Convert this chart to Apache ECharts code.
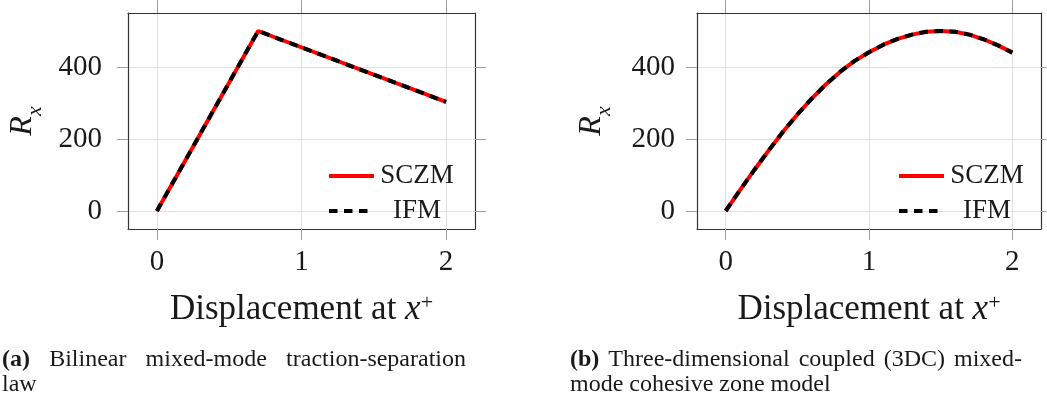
<!DOCTYPE html>
<html>
<head>
<meta charset="utf-8">
<script src="https://cdn.jsdelivr.net/npm/echarts@6/dist/echarts.min.js"></script>
<style>
  html, body { margin: 0; padding: 0; background: #ffffff; }
  #chart { width: 1047px; height: 403px; }
</style>
</head>
<body>
<div id="chart"></div>
<script>
// ---- data -------------------------------------------------------------
const xTicks = [0, 1, 2];
const yTicks = [0, 200, 400];
const xRange = [-0.2, 2.2];
const yRange = [-50, 550];

// (a) bilinear traction-separation law
const bilinearDisp = [0, 0.7, 2];
const bilinearSCZM = [0, 500, 303];
const bilinearIFM = [0, 500, 303];

// (b) 3DC cohesive zone model
const coupledDisp = [0, 0.1, 0.2, 0.3, 0.4, 0.5, 0.6, 0.7, 0.8, 0.9, 1.0,
                     1.1, 1.2, 1.3, 1.4, 1.5, 1.6, 1.7, 1.8, 1.9, 2.0];
const coupledSCZM = [0, 58, 114, 168, 220, 268, 312, 352, 387, 417, 441,
                     462, 478, 490, 498, 500, 498, 490, 477, 460, 440];
const coupledIFM = [0, 58, 114, 168, 220, 268, 312, 352, 387, 417, 441,
                    462, 478, 490, 498, 500, 498, 490, 477, 460, 440];

const seriesNames = ['SCZM', 'IFM'];
const captionA = { tag: '(a)', first: ['Bilinear', 'mixed-mode', 'traction-separation'], rest: 'law' };
const captionB = { tag: '(b)', first: ['Three-dimensional', 'coupled', '(3DC)', 'mixed-'], rest: 'mode cohesive zone model' };

// ---- styling ----------------------------------------------------------
const FONT = 'Liberation Serif';
const INK = '#1a1a1a';
const FRAME = '#333333';
const TICK = '#a0a0a0';
const GRID = '#e0e0e0';
const LINE_W = 4;

const panels = [
  { box: { left: 128, top: 13, width: 347, height: 216 }, yLabelMargin: 26, legend: { left: 327, top: 162.5 },
    disp: bilinearDisp, sczm: bilinearSCZM, ifm: bilinearIFM },
  { box: { left: 697, top: 13, width: 344, height: 216 }, yLabelMargin: 22, legend: { left: 897, top: 162.5 },
    disp: coupledDisp, sczm: coupledSCZM, ifm: coupledIFM }
];

function pairs(xs, ys) { return xs.map((x, i) => [x, ys[i]]); }

const grid = [], xAxis = [], yAxis = [], series = [], legend = [];

panels.forEach((p, g) => {
  grid.push(Object.assign({ containLabel: false }, p.box));

  const frameLine = { show: true, onZero: false, lineStyle: { color: FRAME, width: 1.2 } };

  xAxis.push({
    gridIndex: g, type: 'value', position: 'bottom', min: xRange[0], max: xRange[1],
    axisLine: frameLine,
    axisTick: { show: true, length: 11, customValues: xTicks, lineStyle: { color: TICK, width: 1 } },
    axisLabel: { customValues: xTicks, margin: 19, fontFamily: FONT, fontSize: 29, color: INK },
    splitLine: { show: true, lineStyle: { color: GRID, width: 1 } },
    name: '{a|Displacement at }{i|x}{s|+}',
    nameLocation: 'middle', nameGap: 63,
    nameTextStyle: {
      fontFamily: FONT, fontSize: 35, color: INK,
      rich: {
        a: { fontFamily: FONT, fontSize: 35, lineHeight: 35, color: INK },
        i: { fontFamily: FONT, fontSize: 35, lineHeight: 35, fontStyle: 'italic', color: INK },
        s: { fontFamily: FONT, fontSize: 22, lineHeight: 22, verticalAlign: 'top', color: INK }
      }
    }
  });
  xAxis.push({
    gridIndex: g, type: 'value', position: 'top', min: xRange[0], max: xRange[1],
    axisLine: frameLine,
    axisTick: { show: true, length: 13, customValues: xTicks, lineStyle: { color: TICK, width: 1 } },
    axisLabel: { show: false },
    splitLine: { show: false }
  });

  yAxis.push({
    gridIndex: g, type: 'value', position: 'left', min: yRange[0], max: yRange[1],
    axisLine: frameLine,
    axisTick: { show: true, length: 11, customValues: yTicks, lineStyle: { color: TICK, width: 1 } },
    axisLabel: { customValues: yTicks, margin: p.yLabelMargin, fontFamily: FONT, fontSize: 29, color: INK },
    splitLine: { show: true, lineStyle: { color: GRID, width: 1 } },
    name: '{r|R}{s|x}',
    nameLocation: 'middle', nameRotate: 90, nameGap: 89,
    nameTextStyle: {
      fontFamily: FONT, fontSize: 32, color: INK,
      rich: {
        r: { fontFamily: FONT, fontSize: 32, lineHeight: 32, fontStyle: 'italic', color: INK },
        s: { fontFamily: FONT, fontSize: 22, lineHeight: 22, fontStyle: 'italic', color: INK,
             verticalAlign: 'top', padding: [17, 0, 0, 0] }
      }
    }
  });
  yAxis.push({
    gridIndex: g, type: 'value', position: 'right', min: yRange[0], max: yRange[1],
    axisLine: frameLine,
    axisTick: { show: true, length: 11, customValues: yTicks, lineStyle: { color: TICK, width: 1 } },
    axisLabel: { show: false },
    splitLine: { show: false }
  });

  series.push({
    name: seriesNames[0], type: 'line', xAxisIndex: 2 * g, yAxisIndex: 2 * g,
    data: pairs(p.disp, p.sczm), symbol: 'none', showSymbol: false,
    lineStyle: { color: '#ff0000', width: LINE_W }, itemStyle: { color: '#ff0000' },
    emphasis: { disabled: true }, z: 2
  });
  series.push({
    name: seriesNames[1], type: 'line', xAxisIndex: 2 * g, yAxisIndex: 2 * g,
    data: pairs(p.disp, p.ifm), symbol: 'none', showSymbol: false,
    lineStyle: { color: '#000000', width: LINE_W, type: [8.5, 6.5], cap: 'butt' }, itemStyle: { color: '#000000' },
    emphasis: { disabled: true }, z: 3
  });

  legend.push({
    data: seriesNames, orient: 'vertical', left: p.legend.left, top: p.legend.top,
    padding: 0, itemGap: 8, itemWidth: 45, itemHeight: 14,
    selectedMode: false,
    itemStyle: { opacity: 0 },
    lineStyle: { width: LINE_W },
    formatter: n => '{t|' + n + '}',
    textStyle: {
      fontFamily: FONT, fontSize: 27, color: INK,
      rich: { t: { width: 76, align: 'center', fontFamily: FONT, fontSize: 27, lineHeight: 27, color: INK } }
    }
  });
});

// ---- captions (justified first line, ragged last line) -----------------
const measureCtx = document.createElement('canvas').getContext('2d');
function textWidth(str, weight, size) {
  measureCtx.font = weight + ' ' + size + 'px "' + FONT + '"';
  return measureCtx.measureText(str).width;
}

function captionElements(cap, left, right, y1, y2) {
  const size = 24;
  const words = [{ t: cap.tag, w: 'bold' }].concat(cap.first.map(t => ({ t, w: 'normal' })));
  const widths = words.map(o => textWidth(o.t, o.w, size));
  const total = widths.reduce((a, b) => a + b, 0);
  const gap = (right - left - total) / (words.length - 1);
  const els = [];
  let x = left;
  words.forEach((o, i) => {
    els.push({
      type: 'text', x: x, y: y1, silent: true,
      style: { text: o.t, fontFamily: FONT, fontSize: size, fontWeight: o.w, fill: INK, align: 'left', verticalAlign: 'middle' }
    });
    x += widths[i] + gap;
  });
  els.push({
    type: 'text', x: left, y: y2, silent: true,
    style: { text: cap.rest, fontFamily: FONT, fontSize: size, fill: INK, align: 'left', verticalAlign: 'middle' }
  });
  return els;
}

const graphic = [].concat(
  captionElements(captionA, 2, 466, 360, 385),
  captionElements(captionB, 570, 1022, 360, 385)
);

const chart = echarts.init(document.getElementById('chart'), null, { renderer: 'canvas' });
chart.setOption({
  animation: false,
  backgroundColor: '#ffffff',
  textStyle: { fontFamily: FONT, color: INK },
  grid, xAxis, yAxis, series, legend, graphic
});
</script>
</body>
</html>
